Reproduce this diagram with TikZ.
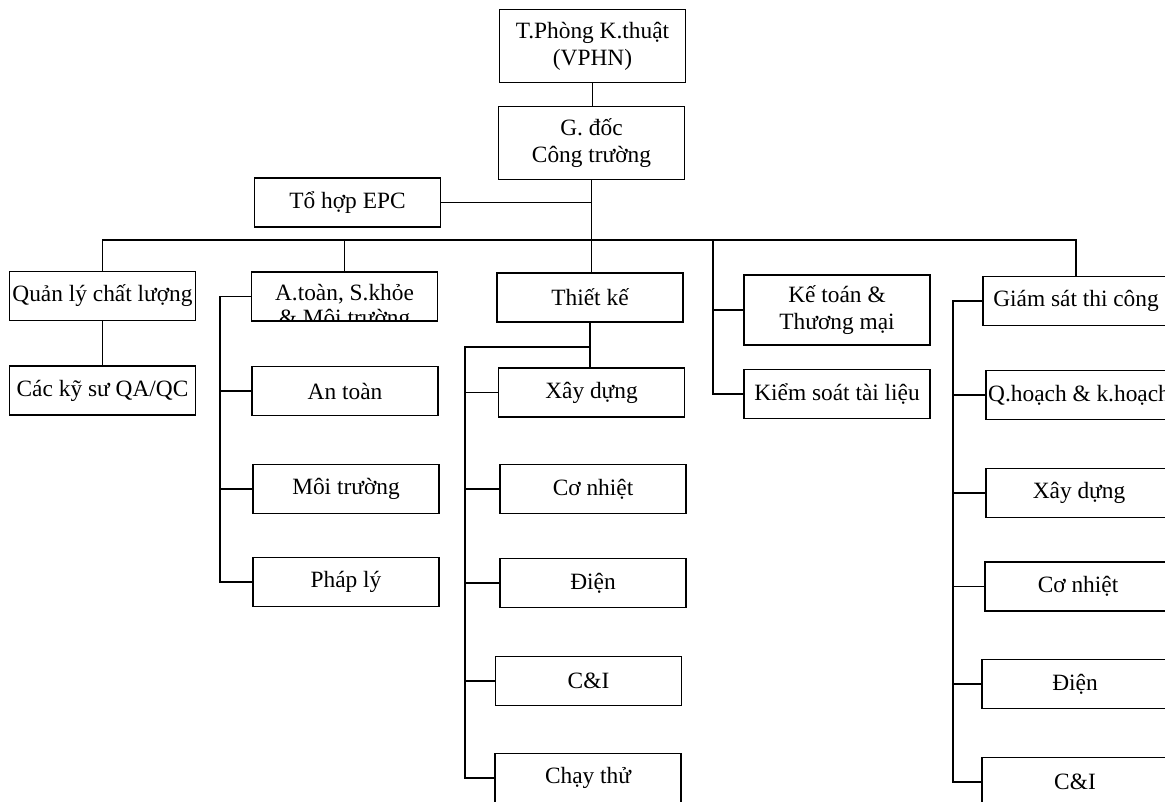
\documentclass[tikz,border=0pt]{standalone}
\usepackage{fontspec}
\setmainfont{Liberation Serif}
\newcommand{\orgfont}{\fontsize{13.3}{15.5}\selectfont}

\begin{document}
\begin{tikzpicture}[x=0.02cm, y=-0.02cm,
    box/.style={draw, line width=1.1pt, minimum width=3.72cm, minimum height=0.98cm,
                inner sep=1pt, align=center, font=\orgfont},
    tall/.style={box, minimum height=1.46cm},
    lbl/.style={anchor=base, inner sep=0pt, font=\orgfont},
    link/.style={line width=0.9pt}
  ]
    \useasboundingbox (0,0) rectangle (1165,801);
    \clip (0,0) rectangle (1165,801);
    % top of the chart
    \node[tall] (tp)  at (592.5,46)    {T.Phòng K.thuật\\(VPHN)};
    \node[tall] (gd)  at (591.5,143)   {G. đốc\\Công trường};
    \node[box]  (epc) at (347.5,202.5) {Tổ hợp EPC};
    % departments
    \node[box] (ql)  at (102.5,296)   {Quản lý chất lượng};
    \node[box] (qa)  at (102.5,390.5) {Các kỹ sư QA/QC};
    \node[box] (hse) at (344.5,296.5) {};
    \begin{scope}
      \clip (hse.south west) rectangle (hse.north east);
      \node[lbl] at (344.5,300) {A.toàn, S.khỏe};
      \node[lbl] at (344.5,325) {\& Môi trường};
    \end{scope}
    \node[box] (at)  at (345,391) {An toàn};
    \node[box] (mt)  at (346,489) {Môi trường};
    \node[box] (pl)  at (346,582) {Pháp lý};
    \node[box] (tk)  at (590,297.5)   {Thiết kế};
    \node[box] (tk1) at (591.5,392.5) {Xây dựng};
    \node[box] (tk2) at (593,489)     {Cơ nhiệt};
    \node[box] (tk3) at (593,583)     {Điện};
    \node[box] (tk4) at (588.5,681)   {C\&I};
    \node[box] (tk5) at (588,778)     {Chạy thử};
    \node[box, minimum height=1.4cm] (kt) at (837,310) {Kế toán \&\\Thương mại};
    \node[box] (ks)  at (837,394) {Kiểm soát tài liệu};
    \node[box] (gs)  at (1076,301)   {Giám sát thi công};
    \node[box] (gs1) at (1079,395)   {Q.hoạch \& k.hoạch};
    \node[box] (gs2) at (1079,493)   {Xây dựng};
    \node[box] (gs3) at (1078,586.5) {Cơ nhiệt};
    \node[box] (gs4) at (1075,684)   {Điện};
    \node[box] (gs5) at (1075,782)   {C\&I};
    % connectors
    \coordinate (bus)  at (0,240);
    \coordinate (hsel) at (220,0);
    \coordinate (tkl)  at (465,347);
    \coordinate (fin)  at (713,0);
    \coordinate (gsl)  at (953,0);
    \draw[link] (tp.south) -- (tp.south |- gd.north);
    \draw[link] (gd.south) -- (gd.south |- tk.north);
    \draw[link] (epc.east) -- (epc.east -| gd.south);
    \draw[link] (ql.north) |- (gs.north |- bus) -- (gs.north);
    \draw[link] (hse.north) -- (hse.north |- bus);
    \draw[link] (fin |- bus) |- (ks.west);
    \draw[link] (fin |- kt.west) -- (kt.west);
    \draw[link] (ql) -- (qa);
    \draw[link] (hse.west) -| (hsel |- pl.west) -- (pl.west);
    \foreach \n in {at,mt}
      \draw[link] (hsel |- \n.west) -- (\n.west);
    \draw[link] (tk.south) -- (tk.south |- tk1.north);
    \draw[link] (tk.south |- tkl) -| (tkl |- tk5.west) -- (tk5.west);
    \foreach \n in {tk1,tk2,tk3,tk4}
      \draw[link] (tkl |- \n.west) -- (\n.west);
    \draw[link] (gs.west) -| (gsl |- gs5.west) -- (gs5.west);
    \foreach \n in {gs1,gs2,gs3,gs4}
      \draw[link] (gsl |- \n.west) -- (\n.west);
\end{tikzpicture}
\end{document}
